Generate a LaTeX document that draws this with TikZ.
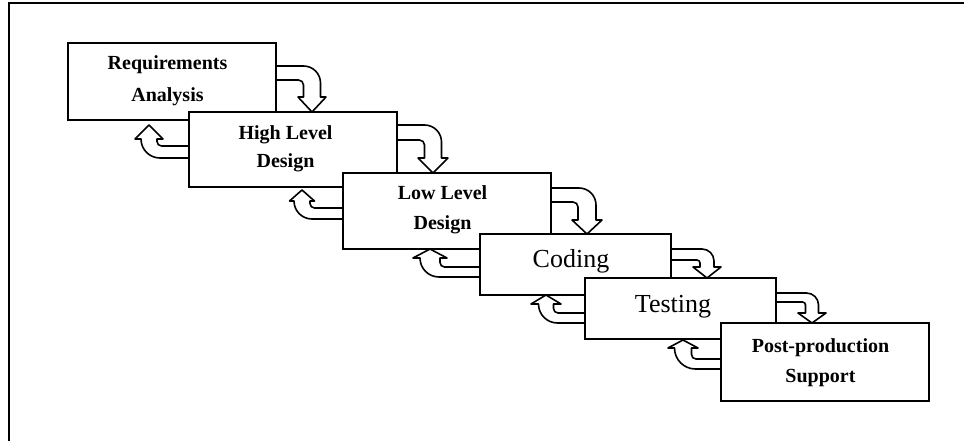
\documentclass[tikz,border=0pt]{standalone}
\usepackage{fontspec}
\setmainfont{Liberation Serif}
\usetikzlibrary{calc}
\tikzset{
  stagebox/.style={draw=black, line width=1.6pt, fill=white, rectangle, outer sep=0pt, inner sep=0pt},
  smalllabel/.style={align=center, font=\fontsize{20}{30}\selectfont\bfseries, inner sep=0pt},
  biglabel/.style={font=\fontsize{26}{30}\selectfont, inner sep=0pt},
  blockarrow/.style={draw=black, line width=1.6pt, fill=white, line join=round},
  framestyle/.style={draw=black, line width=2.4pt}
}
% forward arrow: #1 from, #2 to, #3 band top below #1.north, #4 band height,
% #5 shaft half width, #6 head half width, #7 head length, #8 outer radius, #9 inner radius
\newcommand\fwdarrow[9]{%
  \draw[blockarrow] let \p1=(#1.north east), \p2=(#2.north) in
    (\x1,{\y1-#3pt})
    -- ({\x1+36pt+#5pt-#8pt},{\y1-#3pt})
    to[out=0,in=90] ({\x1+36pt+#5pt},{\y1-#3pt-#8pt})
    -- ({\x1+36pt+#5pt},{\y2+#7pt})
    -- ({\x1+36pt+#6pt},{\y2+#7pt})
    -- ({\x1+36pt},\y2)
    -- ({\x1+36pt-#6pt},{\y2+#7pt})
    -- ({\x1+36pt-#5pt},{\y2+#7pt})
    -- ({\x1+36pt-#5pt},{\y1-#3pt-#4pt-#9pt})
    to[out=90,in=0] ({\x1+36pt-#5pt-#9pt},{\y1-#3pt-#4pt})
    -- (\x1,{\y1-#3pt-#4pt}) -- cycle;}
% back arrow: #1 from, #2 to, #3 band bottom below #1.north, #4 band height,
% #5 tip left of #1.west, #6 tip below #2.south, #7 shaft half width, #8 head half width, #9 head length
\newcommand\bwdarrow[9]{%
  \draw[blockarrow] let \p1=(#1.north west), \p2=(#2.south) in
    (\x1,{\y1-#3pt})
    -- ({\x1-#5pt-#7pt+(\y2-#6pt-#9pt-\y1+#3pt)},{\y1-#3pt})
    to[out=180,in=-90] ({\x1-#5pt-#7pt},{\y2-#6pt-#9pt})
    -- ({\x1-#5pt-#8pt},{\y2-#6pt-#9pt})
    -- ({\x1-#5pt},{\y2-#6pt})
    -- ({\x1-#5pt+#8pt},{\y2-#6pt-#9pt})
    -- ({\x1-#5pt+#7pt},{\y2-#6pt-#9pt})
    -- ({\x1-#5pt+#7pt},{\y1-#3pt+#4pt+4.5pt})
    to[out=-90,in=180] ({\x1-#5pt+#7pt+4.5pt},{\y1-#3pt+#4pt})
    -- (\x1,{\y1-#3pt+#4pt}) -- cycle;}
\begin{document}
\begin{tikzpicture}[x=1pt,y=1pt]
\useasboundingbox (0,0) rectangle (964,-441);
% frame
\coordinate (fbl) at (9,-441);
\coordinate (ftl) at (9,-3);
\coordinate (ftr) at (964,-3);
\draw[framestyle] (fbl) -- (ftl) -- (ftr);
% stages
\node[stagebox, minimum width=208pt, minimum height=77pt] (b1) at (172,-81.5) {};
\node[stagebox, minimum width=208pt, minimum height=75pt] (b2) at (293,-149.5) {};
\node[stagebox, minimum width=208pt, minimum height=76pt] (b3) at (447,-211) {};
\node[stagebox, minimum width=191pt, minimum height=61pt] (b4) at (575.5,-264.5) {};
\node[stagebox, minimum width=191pt, minimum height=61pt] (b5) at (680.5,-308.5) {};
\node[stagebox, minimum width=208pt, minimum height=78pt] (b6) at (825,-362) {};
% labels
\node[smalllabel, font=\fontsize{20}{32}\selectfont\bfseries] (l1) at (167.5,-81) {Requirements\\Analysis};
\node[smalllabel, font=\fontsize{20}{28}\selectfont\bfseries] (l2) at (285.5,-149) {High Level\\Design};
\node[smalllabel] (l3) at (442.5,-210) {Low Level\\Design};
\node[biglabel] (l4) at (571,-261.5) {Coding};
\node[biglabel] (l5) at (673,-306.5) {Testing};
\node[smalllabel] (l6) at (820.5,-363) {Post-production\\Support};
% forward arrows
\fwdarrow{b1}{b2}{23}{14}{8.5}{14}{15}{17}{5}
\fwdarrow{b2}{b3}{13}{15}{8.5}{15}{15}{17}{5}
\fwdarrow{b3}{b4}{15}{14}{9}{15}{14}{17}{5}
\fwdarrow{b4}{b5}{15}{11}{7}{14}{11}{12}{3}
\fwdarrow{b5}{b6}{15}{9}{6.5}{14}{10}{12}{3}
% back arrows
\bwdarrow{b2}{b1}{46}{12}{40}{5}{8}{14}{14}
\bwdarrow{b3}{b2}{46}{11}{41}{3}{8}{12.5}{11}
\bwdarrow{b4}{b3}{43}{10}{50}{0}{10}{17}{9}
\bwdarrow{b5}{b4}{45}{10}{39}{0}{7.5}{15}{9}
\bwdarrow{b6}{b5}{46}{10}{38}{1}{8.5}{15}{8}
\end{tikzpicture}
\end{document}
